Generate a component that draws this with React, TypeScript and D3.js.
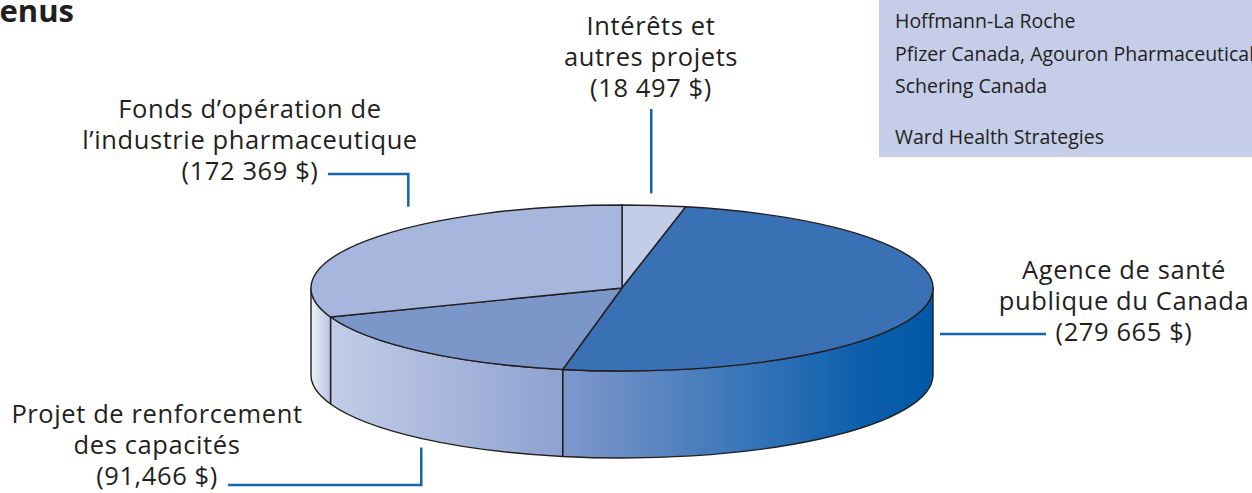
import { useMemo } from 'react';
import * as d3 from 'd3';

// slices, in drawing order (clockwise from 12 o'clock)
const CATEGORIES = [
  'Intérêts et autres projets',
  'Agence de santé publique du Canada',
  'Projet de renforcement des capacités',
  'Fonds d’opération de l’industrie pharmaceutique',
];
const VALUES = [18497, 279665, 91466, 172369];
const VALUE_LABELS = ['(18 497 $)', '(279 665 $)', '(91,466 $)', '(172 369 $)'];
const LABEL_LINES = [
  ['Intérêts et', 'autres projets'],
  ['Agence de santé', 'publique du Canada'],
  ['Projet de renforcement', 'des capacités'],
  ['Fonds d’opération de', 'l’industrie pharmaceutique'],
];
const SPONSORS = ['Hoffmann-La Roche', 'Pfizer Canada, Agouron Pharmaceuticals', 'Schering Canada'];
const CONSULTANTS = ['Ward Health Strategies'];

const W = 1252;
const H = 493;
const FONT = '"Open Sans", "Noto Sans", sans-serif';
const INK = '#231f20';
const LEADER = '#1565b0';

const TOP_COLORS = ['#c4cde8', '#3a70b4', '#7b96c8', '#a6b6dc'];
const WALL_STOPS: [number, string][][] = [
  [[0, '#dde2f2'], [1, '#c4cde8']],
  [[0, '#7f98cb'], [0.82, '#0a5eab'], [1, '#0059a6']],
  [[0, '#c4cce8'], [1, '#8ea2d0']],
  [[0, '#eef0f8'], [1, '#b9c3e3']],
];

// label layout: text centre, first baseline, leader route
const LABEL_POS = [
  { x: 651, y: 35, rimDeg: 5.4, kind: 'up', half: 0 },
  { x: 1124, y: 279, rimDeg: 90, kind: 'side', half: 72 },
  { x: 157, y: 423, rimDeg: 220.2, kind: 'down', half: 65 },
  { x: 250, y: 118, rimDeg: 316.6, kind: 'up-elbow', half: 72 },
];

export default function App() {
  const cx = 622, cy = 288, rx = 311, ry = 83, depth = 87;
  const lineH = 31;

  const pt = (a: number, dy = 0): [number, number] => [cx + rx * Math.sin(a), cy - ry * Math.cos(a) + dy];

  const arcs = useMemo(() => d3.pie<number>().sort(null).value((d) => d)(VALUES), []);

  const topPath = (a0: number, a1: number) => {
    const p0 = pt(a0), p1 = pt(a1);
    const large = a1 - a0 > Math.PI ? 1 : 0;
    return `M${cx},${cy}L${p0[0]},${p0[1]}A${rx},${ry} 0 ${large} 1 ${p1[0]},${p1[1]}Z`;
  };

  const walls = arcs
    .map((a, i) => {
      const s = Math.max(a.startAngle, Math.PI / 2);
      const e = Math.min(a.endAngle, (3 * Math.PI) / 2);
      if (s >= e) return null;
      const ps = pt(s), pe = pt(e), pe2 = pt(e, depth), ps2 = pt(s, depth);
      const d = `M${ps[0]},${ps[1]}A${rx},${ry} 0 0 1 ${pe[0]},${pe[1]}L${pe2[0]},${pe2[1]}A${rx},${ry} 0 0 0 ${ps2[0]},${ps2[1]}Z`;
      return { i, d, x0: Math.min(ps[0], pe[0]), x1: Math.max(ps[0], pe[0]) };
    })
    .filter((w): w is { i: number; d: string; x0: number; x1: number } => w !== null);

  const leader = (i: number) => {
    const L = LABEL_POS[i];
    const a = (L.rimDeg * Math.PI) / 180;
    const last = L.y + lineH * 2;
    if (L.kind === 'up') {
      const r = pt(a);
      return `M${r[0]},${last + 12}V${r[1] - 12}`;
    }
    if (L.kind === 'up-elbow') {
      const r = pt(a);
      return `M${L.x + L.half + 6},${last - 6}H${r[0]}V${r[1] - 21}`;
    }
    if (L.kind === 'side') {
      const r = pt(a);
      return `M${r[0] + 7},${last - 7}H${L.x - L.half - 6}`;
    }
    const r = pt(a, depth);
    return `M${L.x + L.half + 6},${last}H${r[0]}V${r[1] + 9}`;
  };

  return (
    <svg width={W} height={H} style={{ position: 'absolute', left: 0, top: 0, background: '#fff' }}>
      <defs>
        {walls.map((w) => (
          <linearGradient key={w.i} id={`wall${w.i}`} gradientUnits="userSpaceOnUse" x1={w.x0} x2={w.x1} y1={0} y2={0}>
            {WALL_STOPS[w.i].map(([o, c]) => (
              <stop key={o} offset={o} stopColor={c} />
            ))}
          </linearGradient>
        ))}
      </defs>

      {/* title, cut by the page edge as in the source */}
      <text x={74} y={22} textAnchor="end" fontFamily={FONT} fontWeight={700} fontSize={31} fill={INK}>
        Revenus
      </text>

      {/* sponsor box */}
      <rect x={879} y={0} width={W - 879} height={157} fill="#c5cde9" />
      {SPONSORS.map((s, i) => (
        <text key={s} x={895} y={28 + i * 32.5} fontFamily={FONT} fontSize={19.5} fill={INK}>
          {s}
        </text>
      ))}
      {CONSULTANTS.map((s, i) => (
        <text key={s} x={895} y={144 + i * 32.5} fontFamily={FONT} fontSize={19.5} fill={INK}>
          {s}
        </text>
      ))}

      {/* pie sides */}
      {walls.map((w) => (
        <path key={w.i} d={w.d} fill={`url(#wall${w.i})`} stroke={INK} strokeWidth={1.4} strokeLinejoin="round" />
      ))}
      {/* pie top */}
      {arcs.map((a, i) => (
        <path key={i} d={topPath(a.startAngle, a.endAngle)} fill={TOP_COLORS[i]} stroke={INK} strokeWidth={1.4} strokeLinejoin="round" />
      ))}

      {/* labels */}
      {CATEGORIES.map((c, i) => {
        const L = LABEL_POS[i];
        const lines = [...LABEL_LINES[i], VALUE_LABELS[i]];
        return (
          <g key={c}>
            {lines.map((t, j) => (
              <text key={j} x={L.x} y={L.y + j * lineH} textAnchor="middle" fontFamily={FONT} fontSize={25.5} letterSpacing={0.6} fill={INK}>
                {t}
              </text>
            ))}
            <path d={leader(i)} fill="none" stroke={LEADER} strokeWidth={2.5} />
          </g>
        );
      })}
    </svg>
  );
}
